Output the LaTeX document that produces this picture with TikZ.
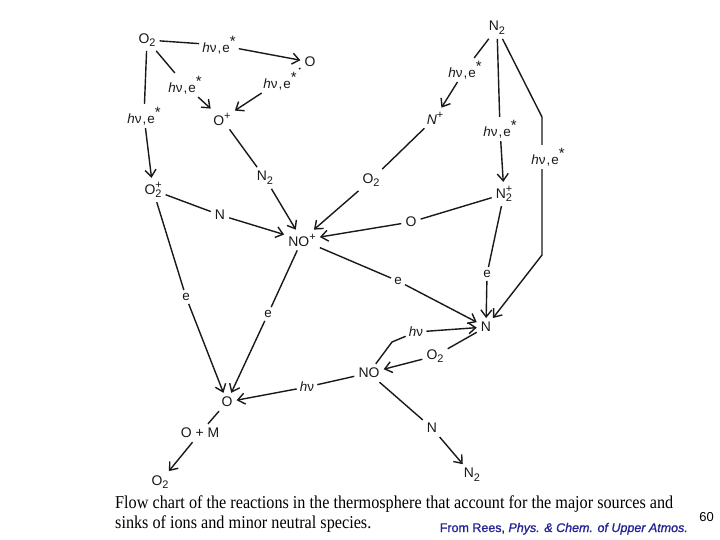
\documentclass[tikz,border=0pt]{standalone}
\usepackage{fontspec}
\setmainfont{Liberation Sans}
\newfontfamily\capfont{Liberation Serif}
\newfontfamily\srcfont[FakeBold=1.2]{Liberation Sans}
\usetikzlibrary{arrows.meta}
\definecolor{srcblue}{RGB}{35,35,150}
\definecolor{ink}{RGB}{25,25,25}
\newcommand\dn[1]{\raisebox{-0.5ex}{\fontsize{11}{11}\selectfont #1}}
\newcommand\up[1]{\raisebox{0.8ex}{\fontsize{11}{11}\selectfont #1}}
\newcommand\ud[2]{\rlap{\up{#1}}\dn{#2}}
\newcommand\hve{\textit{h}ν\kern1pt,\kern1pt e\raisebox{0.8ex}{\fontsize{15}{15}\selectfont *}}
\begin{document}
\begin{tikzpicture}[x=1bp,y=-1bp,
  sp/.style={inner sep=4bp, text=ink, font=\fontsize{14}{14}\selectfont},
  lb/.style={inner sep=3bp, text=ink, font=\fontsize{13.5}{14}\selectfont},
  ln/.style={draw=ink, line width=1.4bp},
  arr/.style={ln, -{Straight Barb[length=7bp,width=11bp]}}]
\useasboundingbox (0,0) rectangle (720,540);
% species
\node[sp] (O2a) at (147,40) {O\dn{2}};
\node[sp] (Oa)  at (310,62) {O};
\node[sp] (Op)  at (222,119) {O\up{+}};
\node[sp] (O2p) at (153,190) {O\ud{+}{2}};
\node[sp] (N2a) at (265,178) {N\dn{2}};
\node[sp] (Na)  at (220,215) {N};
\node[sp] (NOp) at (302,240) {NO\up{+}};
\node[sp] (O2b) at (371,180) {O\dn{2}};
\node[sp] (Np)  at (435,118) {\textit{N}\up{+}};
\node[sp] (N2t) at (497,28) {N\dn{2}};
\node[sp] (N2p) at (504,194) {N\ud{+}{2}};
\node[sp] (Ob)  at (411,222) {O};
\node[sp] (Nb)  at (486,327) {N};
\node[sp] (NOn) at (369,373) {NO};
\node[sp] (O2c) at (435,356) {O\dn{2}};
\node[sp] (Oc)  at (227,402) {O};
\node[sp] (OM)  at (200,433) {O + M};
\node[sp] (O2d) at (160,482) {O\dn{2}};
\node[sp] (Nc)  at (432,428) {N};
\node[sp] (N2b) at (472,475) {N\dn{2}};
% labels
\node[lb] (L1) at (219,45) {\hve};
\node[lb] (L2) at (185,85) {\hve};
\node[lb] (L3) at (280,81) {\hve};
\node[lb] (L4) at (144,116) {\hve};
\node[lb] (L5) at (465,70) {\hve};
\node[lb] (L6) at (500,129) {\hve};
\node[lb] (L7) at (548,157) {\hve};
\node[lb] (e1) at (487,274) {e};
\node[lb] (e2) at (398,281) {e};
\node[lb] (e3) at (186,297) {e};
\node[lb] (e4) at (268,314) {e};
\node[lb] (hv1) at (307,387) {\textit{h}ν};
\node[lb] (hv2) at (416,332) {\textit{h}ν};
\coordinate (k1) at (542,117);
\coordinate (k2) at (542,255);
\coordinate (k3) at (392,342);
% connectors
\draw[ln] (O2a) -- (L1); \draw[arr] (L1) -- (Oa);
\draw[ln] (O2a) -- (L2); \draw[arr] (L2) -- (Op);
\draw[ln] (Oa) -- (L3);  \draw[arr] (L3) -- (Op);
\draw[ln] (O2a) -- (L4); \draw[arr] (L4) -- (O2p);
\draw[ln] (Op) -- (N2a); \draw[arr] (N2a) -- (NOp);
\draw[ln] (O2p) -- (Na); \draw[arr] (Na) -- (NOp);
\draw[ln] (Np) -- (O2b); \draw[arr] (O2b) -- (NOp);
\draw[ln] (N2t) -- (L5); \draw[arr] (L5) -- (Np);
\draw[ln] (N2t) -- (L6); \draw[arr] (L6) -- (N2p);
\draw[ln] (N2t) -- (k1) -- (L7.north -| k1);
\draw[arr] (L7.south -| k2) -- (k2) -- (Nb);
\draw[ln] (N2p) -- (Ob); \draw[arr] (Ob) -- (NOp);
\draw[ln] (N2p) -- (e1); \draw[arr] (e1) -- (Nb);
\draw[ln] (NOp) -- (e2); \draw[arr] (e2) -- (Nb);
\draw[ln] (O2p) -- (e3); \draw[arr] (e3) -- (Oc);
\draw[ln] (NOp) -- (e4); \draw[arr] (e4) -- (Oc);
\draw[ln] (NOn) -- (hv1); \draw[arr] (hv1) -- (Oc);
\draw[ln] (NOn) -- (k3) -- (hv2); \draw[arr] (hv2) -- (Nb);
\draw[ln] (Nb) -- (O2c); \draw[arr] (O2c) -- (NOn);
\draw[ln] (NOn) -- (Nc); \draw[arr] (Nc) -- (N2b);
\draw[ln] (Oc) -- (OM); \draw[arr] (OM) -- (O2d);
% caption
\node[anchor=base west, inner sep=0] (cap) at (115,508) {\scalebox{1}[1.12]{\resizebox{558bp}{!}{\capfont\fontsize{15}{17}\selectfont
  \begin{tabular}[t]{@{}l@{}}Flow chart of the reactions in the thermosphere that account for the major sources and\\
  sinks of ions and minor neutral species.\end{tabular}}}};
\node[anchor=base east, inner sep=0, text=srcblue] (src) at (688,532) {\resizebox{248bp}{!}{\srcfont\fontsize{11}{11}\selectfont From Rees, \textit{Phys. \& Chem. of Upper Atmos.}}};
\node[anchor=base east, inner sep=0, font=\fontsize{13}{13}\selectfont] (pg) at (714,521) {60};
\end{tikzpicture}
\end{document}
